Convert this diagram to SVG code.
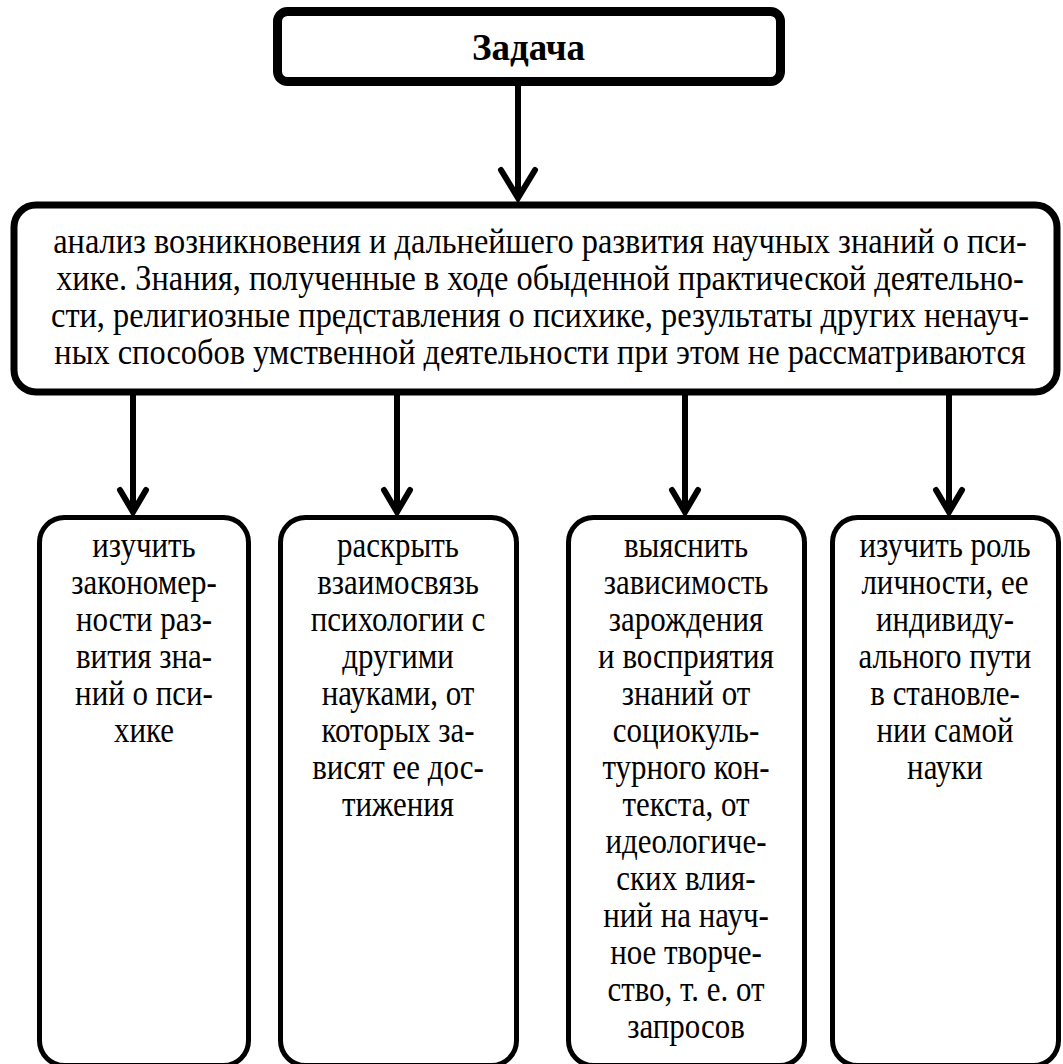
<svg xmlns="http://www.w3.org/2000/svg" width="1063" height="1064" viewBox="0 0 1063 1064">
<style>
.box{fill:#fff;stroke:#000}
text{font-family:'Liberation Serif','Times New Roman',serif;fill:#000;text-anchor:middle}
.t{font-size:36px}
.tb{font-size:37px;font-weight:bold}
.ln{stroke:#000;stroke-width:6;fill:none}
.hd{stroke:#000;stroke-width:6;fill:none;stroke-linecap:round;stroke-linejoin:miter}
</style>
<rect width="1063" height="1064" fill="#fff"/>
<g id="connectors">
<line class="ln" x1="518" y1="86" x2="518" y2="198"/>
<polyline class="hd" points="501,170 518,198 535,170"/>
<line class="ln" x1="133" y1="394" x2="133" y2="512"/>
<polyline class="hd" points="120,490 133,512 146,490"/>
<line class="ln" x1="397" y1="394" x2="397" y2="512"/>
<polyline class="hd" points="384,490 397,512 410,490"/>
<line class="ln" x1="685" y1="394" x2="685" y2="512"/>
<polyline class="hd" points="672,490 685,512 698,490"/>
<line class="ln" x1="949" y1="394" x2="949" y2="512"/>
<polyline class="hd" points="936,490 949,512 962,490"/>
</g>
<g id="node-task">
<rect class="box" x="277.5" y="11.5" width="503" height="70" rx="10" stroke-width="9"/>
<text class="tb" x="528.5" y="60">Задача</text>
</g>
<g id="node-analysis">
<rect class="box" x="14" y="205" width="1043" height="187" rx="22" stroke-width="7"/>
<g transform="translate(540,0) scale(0.9,1)">
<text class="t" x="0" y="253">анализ возникновения и дальнейшего развития научных знаний о пси-</text>
<text class="t" x="0" y="290">хике. Знания, полученные в ходе обыденной практической деятельно-</text>
<text class="t" x="0" y="327">сти, религиозные представления о психике, результаты других ненауч-</text>
<text class="t" x="0" y="364">ных способов умственной деятельности при этом не рассматриваются</text>
</g>
</g>
<g id="node-1">
<rect class="box" x="39.5" y="517.5" width="209" height="548" rx="25" stroke-width="5"/>
<g transform="translate(144,0) scale(0.86,1)">
<text class="t" x="0" y="557">изучить</text>
<text class="t" x="0" y="594">закономер-</text>
<text class="t" x="0" y="631">ности раз-</text>
<text class="t" x="0" y="668">вития зна-</text>
<text class="t" x="0" y="705">ний о пси-</text>
<text class="t" x="0" y="742">хике</text>
</g>
</g>
<g id="node-2">
<rect class="box" x="280.5" y="517.5" width="236" height="548" rx="25" stroke-width="5"/>
<g transform="translate(398,0) scale(0.86,1)">
<text class="t" x="0" y="557">раскрыть</text>
<text class="t" x="0" y="594">взаимосвязь</text>
<text class="t" x="0" y="631">психологии с</text>
<text class="t" x="0" y="668">другими</text>
<text class="t" x="0" y="705">науками, от</text>
<text class="t" x="0" y="742">которых за-</text>
<text class="t" x="0" y="779">висят ее дос-</text>
<text class="t" x="0" y="816">тижения</text>
</g>
</g>
<g id="node-3">
<rect class="box" x="568.5" y="517.5" width="236" height="548" rx="25" stroke-width="5"/>
<g transform="translate(686,0) scale(0.86,1)">
<text class="t" x="0" y="557">выяснить</text>
<text class="t" x="0" y="594">зависимость</text>
<text class="t" x="0" y="631">зарождения</text>
<text class="t" x="0" y="668">и восприятия</text>
<text class="t" x="0" y="705">знаний от</text>
<text class="t" x="0" y="742">социокуль-</text>
<text class="t" x="0" y="779">турного кон-</text>
<text class="t" x="0" y="816">текста, от</text>
<text class="t" x="0" y="853">идеологиче-</text>
<text class="t" x="0" y="890">ских влия-</text>
<text class="t" x="0" y="927">ний на науч-</text>
<text class="t" x="0" y="964">ное творче-</text>
<text class="t" x="0" y="1001">ство, т. е. от</text>
<text class="t" x="0" y="1038">запросов</text>
</g>
</g>
<g id="node-4">
<rect class="box" x="832.5" y="517.5" width="226" height="548" rx="25" stroke-width="5"/>
<g transform="translate(945,0) scale(0.86,1)">
<text class="t" x="0" y="557">изучить роль</text>
<text class="t" x="0" y="594">личности, ее</text>
<text class="t" x="0" y="631">индивиду-</text>
<text class="t" x="0" y="668">ального пути</text>
<text class="t" x="0" y="705">в становле-</text>
<text class="t" x="0" y="742">нии самой</text>
<text class="t" x="0" y="779">науки</text>
</g>
</g>
</svg>
